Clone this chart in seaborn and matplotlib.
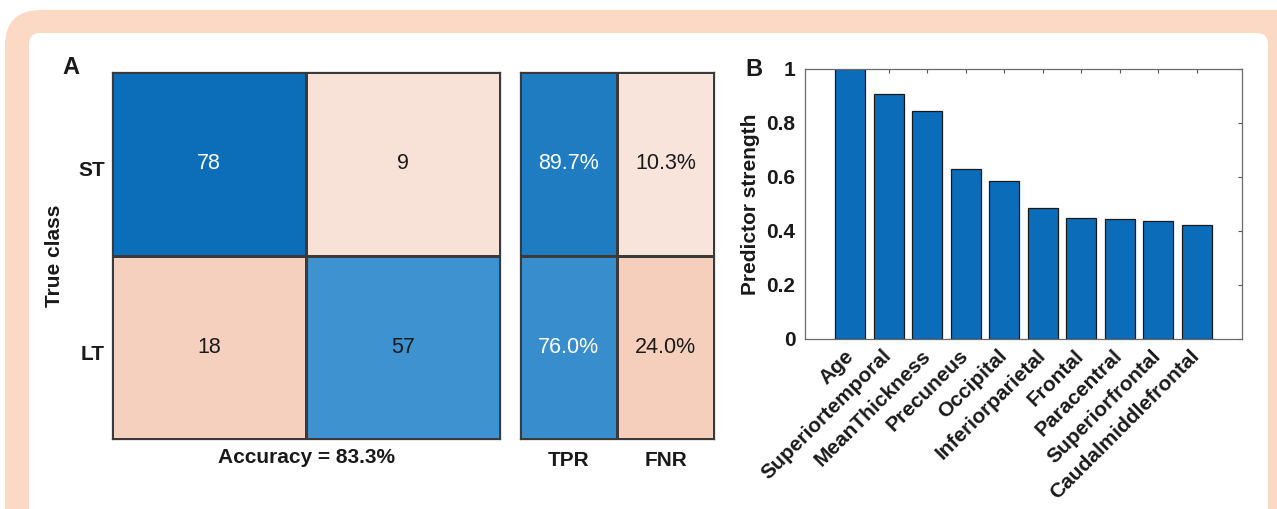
import numpy as np
import pandas as pd
import matplotlib
matplotlib.use("Agg")
import matplotlib.pyplot as plt
import matplotlib.transforms as mtrans
import seaborn as sns
from matplotlib.colors import LinearSegmentedColormap
from matplotlib.patches import FancyBboxPatch

# ---------------- data ----------------
classes = ["ST", "LT"]
counts = [[78, 9],
          [18, 57]]
rate_labels = ["TPR", "FNR"]
predictors = ["Age", "Superiortemporal", "MeanThickness", "Precuneus", "Occipital",
              "Inferiorparietal", "Frontal", "Paracentral", "Superiorfrontal",
              "Caudalmiddlefrontal"]
strength = [1.0, 0.907, 0.846, 0.630, 0.586, 0.487, 0.448, 0.446, 0.437, 0.421]

# ---------------- style ----------------
sns.set_theme(style="white")
plt.rcParams["font.family"] = ["Liberation Sans", "DejaVu Sans"]

W, H = 1277, 509
fig = plt.figure(figsize=(W / 100, H / 100), dpi=100)
fig.patch.set_facecolor("white")


def px(x0, y0, x1, y1):
    return [x0 / W, 1 - y1 / H, (x1 - x0) / W, (y1 - y0) / H]


# framed background (inches, via dpi_scale_trans -> isotropic corners)
outer = FancyBboxPatch((0.05, -0.6), 13.5, 4.99 + 0.6,
                       boxstyle="round,pad=0,rounding_size=0.36",
                       transform=fig.dpi_scale_trans, facecolor="#FBD9C4",
                       edgecolor="none", zorder=-20)
inner = FancyBboxPatch((0.29, -0.6), 12.39, 4.76 + 0.6,
                       boxstyle="round,pad=0,rounding_size=0.11",
                       transform=fig.dpi_scale_trans, facecolor="white",
                       edgecolor="none", zorder=-19)
fig.add_artist(outer)
fig.add_artist(inner)

blue_cmap = LinearSegmentedColormap.from_list(
    "cm_blue", [(0, "#FFFFFF"), (0.6, "#55A4DA"), (1, "#0C6EB8")])
peach_cmap = LinearSegmentedColormap.from_list(
    "cm_peach", [(0, "#FBF4F1"), (1, "#E15A13")])

edge = "#3a3a3a"
bold = dict(fontweight="bold", fontsize=15, color="#1a1a1a")

cm = np.array(counts, dtype=float)
cm_df = pd.DataFrame(cm / cm.max(), index=classes, columns=classes)
diag = np.eye(2, dtype=bool)

row_tot = cm.sum(axis=1)
rates = np.column_stack([np.diag(cm) / row_tot, (row_tot - np.diag(cm)) / row_tot])
rate_df = pd.DataFrame(rates, index=classes, columns=rate_labels)
first_col = np.zeros((2, 2), dtype=bool)
first_col[:, 0] = True


def draw_matrix(ax, df, good_mask, texts):
    sns.heatmap(df, mask=~good_mask, cmap=blue_cmap, vmin=0, vmax=1, cbar=False,
                linewidths=0.8, linecolor=edge, ax=ax)
    sns.heatmap(df, mask=good_mask, cmap=peach_cmap, vmin=0, vmax=1, cbar=False,
                linewidths=0.8, linecolor=edge, ax=ax)
    vals = df.values
    for i in range(vals.shape[0]):
        for j in range(vals.shape[1]):
            col = "white" if (good_mask[i, j] and vals[i, j] > 0.75) else "#1a1a1a"
            ax.text(j + 0.5, i + 0.5, texts[i][j], ha="center", va="center",
                    fontsize=15.5, color=col)
    for s in ax.spines.values():
        s.set_visible(True)
        s.set_color(edge)
        s.set_linewidth(0.9)
    ax.tick_params(length=0)


# ---------------- panel A: confusion matrix ----------------
ax1 = fig.add_axes(px(112, 72, 500, 439))
draw_matrix(ax1, cm_df, diag, [[f"{int(v)}" for v in r] for r in counts])
ax1.set_xticks([])
ax1.set_yticks([0.5, 1.5])
ax1.set_yticklabels(classes, rotation=0, **bold)
ax1.tick_params(axis="y", pad=5)
shift = mtrans.ScaledTranslation(0, -0.07, fig.dpi_scale_trans)
for lab in ax1.get_yticklabels():
    lab.set_transform(lab.get_transform() + shift)
ax1.set_xlabel("Accuracy = %.1f%%" % (100 * np.trace(cm) / cm.sum()), **bold)
ax1.xaxis.set_label_coords(0.5, -0.025)
ax1.set_ylabel("True class", **bold)
ax1.yaxis.set_label_coords(-0.124, 0.5)

ax2 = fig.add_axes(px(520, 72, 714, 439))
draw_matrix(ax2, rate_df, first_col, [[f"{100 * v:.1f}%" for v in r] for r in rates])
ax2.set_yticks([])
ax2.set_xticks([0.5, 1.5])
ax2.set_xticklabels(rate_labels, **bold)
ax2.tick_params(axis="x", pad=9)
ax2.set_xlabel("")
ax2.set_ylabel("")

fig.text(71 / W, 1 - 67 / H, "A", ha="center", va="center", fontsize=17,
         fontweight="bold", color="#1a1a1a")

# ---------------- panel B: predictor strength ----------------
ax3 = fig.add_axes(px(805, 69, 1242, 339))
sns.barplot(x=predictors, y=strength, color="#0B6DBA", saturation=1, width=0.78,
            edgecolor="#1a1a1a", linewidth=0.9, ax=ax3)
ax3.set_xlim(-1.18, len(predictors) - 1 + 1.18)
ax3.set_ylim(0, 1)
yt = [0, 0.2, 0.4, 0.6, 0.8, 1.0]
ax3.set_yticks(yt)
ax3.set_yticklabels(["0", "0.2", "0.4", "0.6", "0.8", "1"], **bold)
ax3.set_xticks(range(len(predictors)))
ax3.set_xticklabels(predictors, rotation=45, ha="right", va="center",
                    rotation_mode="anchor", **bold)
ax3.tick_params(direction="in", top=True, right=True, length=3, width=0.8,
                color="#555555")
ax3.tick_params(axis="y", pad=7)
ax3.tick_params(axis="x", pad=10)
for s in ax3.spines.values():
    s.set_visible(True)
    s.set_color("#6a6a6a")
    s.set_linewidth(0.9)
ax3.set_ylabel("Predictor strength", **bold)
ax3.yaxis.set_label_coords(-0.103, 0.5)
ax3.set_xlabel("")

fig.text(754 / W, 1 - 69 / H, "B", ha="center", va="center", fontsize=17,
         fontweight="bold", color="#1a1a1a")

fig.savefig("out.png", dpi=100, facecolor="white")
